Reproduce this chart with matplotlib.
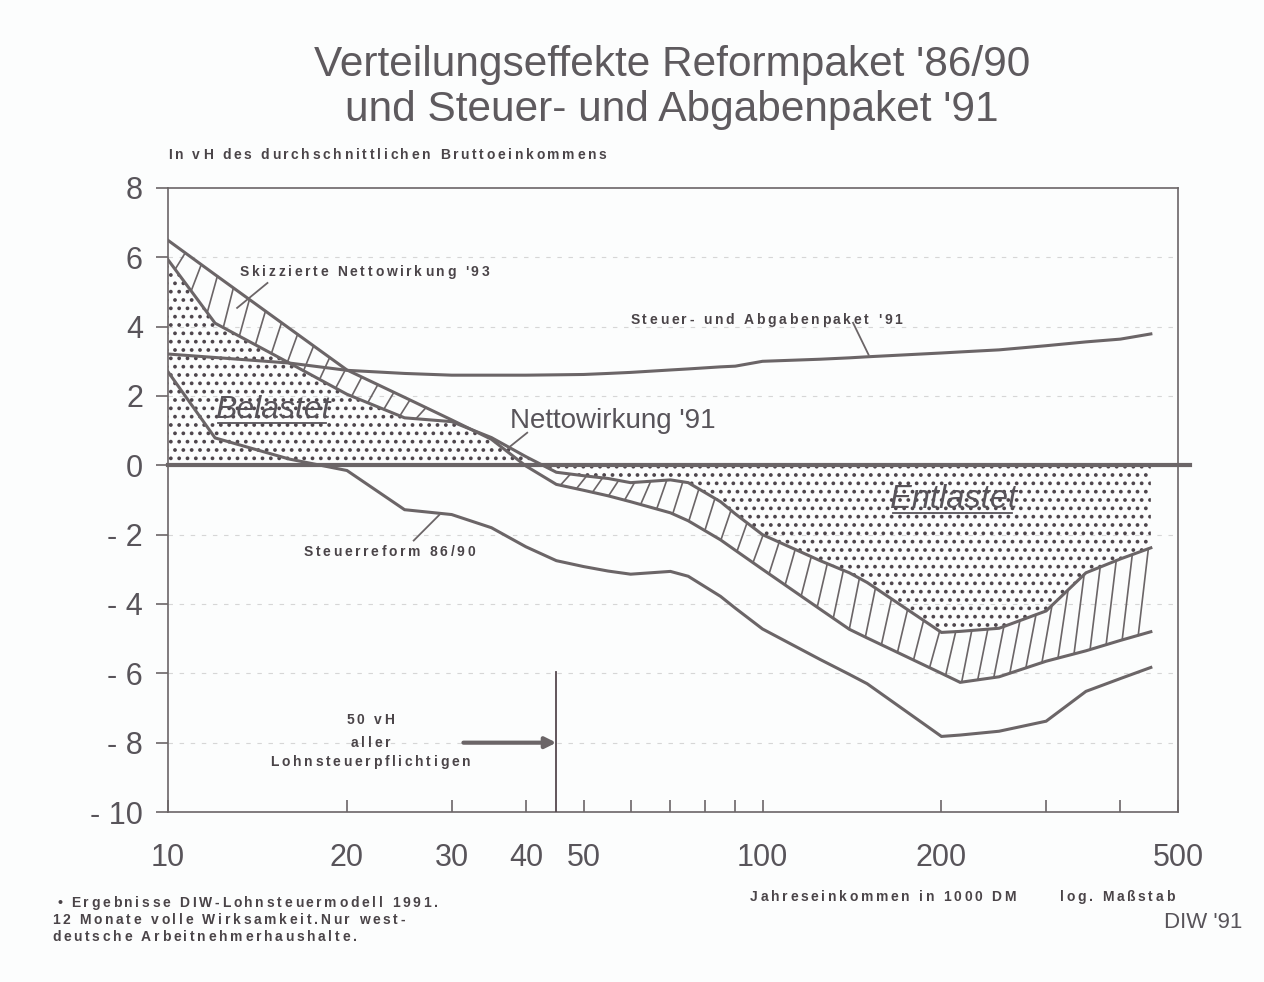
import numpy as np
import matplotlib.pyplot as plt
from matplotlib.ticker import FixedLocator, FixedFormatter, NullFormatter
from matplotlib.font_manager import FontProperties, findfont, get_font

# Jahreseinkommen in 1000 DM (log. Massstab)
einkommen = [10, 12, 16, 20, 25, 30, 35, 40, 45, 50, 55, 60, 70, 75, 85, 90,
             100, 125, 140, 150, 200, 215, 250, 300, 350, 400, 450]
# in vH des durchschnittlichen Bruttoeinkommens
steuerreform = [2.70, 0.79, 0.18, -0.15, -1.28, -1.42, -1.80, -2.35, -2.75, -2.92,
                -3.05, -3.14, -3.06, -3.20, -3.78, -4.12, -4.72, -5.60, -6.03, -6.30,
                -7.82, -7.78, -7.67, -7.38, -6.52, -6.15, -5.83]
abgabenpaket = [3.21, 3.11, 2.95, 2.74, 2.65, 2.60, 2.60, 2.60, 2.61, 2.62,
                2.65, 2.68, 2.75, 2.78, 2.84, 2.86, 3.00, 3.06, 3.10, 3.13,
                3.24, 3.27, 3.33, 3.45, 3.56, 3.64, 3.79]
netto91 = [5.93, 4.10, 2.95, 2.05, 1.37, 1.26, 0.80, 0.25, -0.20, -0.30,
           -0.38, -0.50, -0.42, -0.50, -1.05, -1.40, -2.00, -2.75, -3.10, -3.38,
           -4.82, -4.79, -4.70, -4.20, -3.10, -2.70, -2.38]
netto93 = [6.49, 5.50, 3.95, 2.75, 1.96, 1.31, 0.75, -0.02, -0.55, -0.72,
           -0.88, -1.05, -1.37, -1.60, -2.15, -2.45, -3.00, -4.15, -4.73, -4.98,
           -6.00, -6.26, -6.10, -5.65, -5.35, -5.05, -4.80]

xticks = [10, 20, 30, 40, 50, 100, 200, 500]
xminor = [60, 70, 80, 90, 300, 400]
yticks = [-10, -8, -6, -4, -2, 0, 2, 4, 6, 8]
ylabels = ['- 10', '- 8', '- 6', '- 4', '- 2', '0', '2', '4', '6', '8']
grenze = 45  # 50 vH aller Lohnsteuerpflichtigen

line_col = '#6b6567'
text_col = '#58545a'
small_col = '#4a4448'
plt.rcParams['hatch.linewidth'] = 1.5

fig = plt.figure(figsize=(12.64, 9.82), dpi=100, facecolor='#fcfdfd')
W, H = 1264.0, 982.0
ax = fig.add_axes([0.1329, 0.1731, 0.7991, 0.6355])
ax.set_facecolor('#fcfdfd')
ax.set_xscale('log')
ax.set_xlim(10, 500)
ax.set_ylim(-10, 8)

small_fp = FontProperties(family='Liberation Sans', weight='bold', size=10)
small_font = get_font(findfont(small_fp))
small_font.set_size(10, 100)


def spaced(x, y, s, track=2.7, ha='left', data=True):
    # gesperrter Text wie im Original: Zeichen einzeln setzen
    if data:
        px, py = ax.transData.transform((x, y))
    else:
        px, py = x * W, y * H
    adv = []
    for c in s:
        g = small_font.load_char(ord(c))
        adv.append(g.linearHoriAdvance / 65536)
    total = sum(adv) + track * (len(s) - 1)
    if ha == 'center':
        px -= total / 2
    elif ha == 'right':
        px -= total
    for c, a in zip(s, adv):
        if c != ' ':
            fig.text(px / W, py / H, c, ha='left', va='center',
                     fontproperties=small_fp, color=small_col)
        px += a + track


for s in ax.spines.values():
    s.set_color(line_col)
    s.set_linewidth(1.2)

ax.yaxis.set_major_locator(FixedLocator(yticks))
ax.yaxis.set_major_formatter(FixedFormatter(ylabels))
ax.xaxis.set_major_locator(FixedLocator(xticks))
ax.xaxis.set_major_formatter(FixedFormatter([str(v) for v in xticks]))
ax.xaxis.set_minor_locator(FixedLocator(xminor))
ax.xaxis.set_minor_formatter(NullFormatter())
ax.tick_params(axis='y', direction='out', length=9, width=1.2, pad=9,
               colors=line_col, labelcolor=text_col, labelsize=22,
               labelfontfamily='Liberation Sans')
ax.tick_params(axis='x', which='both', direction='in', length=9, width=1.2,
               pad=22, colors=line_col, labelcolor=text_col, labelsize=22,
               labelfontfamily='Liberation Sans')

for y in yticks[1:-1]:
    if y != 0:
        ax.axhline(y, color='#d6d6d6', lw=0.8, ls=(0, (4, 6)), zorder=0)

# gepunktete Flaeche: Nettowirkung '91
ax.fill_between(einkommen, netto91, 0, facecolor='none', edgecolor='#4e464c',
                hatch='..', linewidth=0, zorder=1)

# schraffierte Flaeche zwischen '91 und '93
u = np.log10(einkommen)
lo = np.minimum(netto91, netto93)
hi = np.maximum(netto91, netto93)
shift = 0.017
for s in np.arange(u[0] + 0.012, u[-1] - shift, 0.027):
    y0 = np.interp(s, u, lo)
    y1 = np.interp(s + shift, u, hi)
    if y1 - y0 > 0.2:
        ax.plot([10 ** s, 10 ** (s + shift)], [y0, y1], color=line_col,
                lw=1.2, zorder=2)

ax.axhline(0, xmax=1.012, color=line_col, lw=3, clip_on=False, zorder=3)
for ys in (steuerreform, abgabenpaket, netto91, netto93):
    ax.plot(einkommen, ys, color=line_col, lw=2.2, zorder=4,
            solid_joinstyle='miter')

ax.plot([grenze, grenze], [-10, -5.97], color='#55484e', lw=1.3, zorder=4)
ax.annotate('', xy=(grenze, -8), xytext=(31.4, -8),
            arrowprops=dict(arrowstyle='-|>', color=line_col, lw=3,
                            mutation_scale=16, shrinkA=0, shrinkB=0))
spaced(21.9, -7.34, '50 vH', ha='center')
spaced(21.9, -8.0, 'aller', ha='center')
spaced(21.9, -8.57, 'Lohnsteuerpflichtigen', ha='center')

# Beschriftungen mit Hinweislinien
lk = dict(color=line_col, lw=1.3, zorder=5)
spaced(13.2, 5.57, "Skizzierte Nettowirkung '93")
ax.plot([14.7, 13.07], [5.26, 4.54], **lk)
spaced(59.9, 4.19, "Steuer- und Abgabenpaket '91")
ax.plot([142, 150.8], [4.11, 3.19], **lk)
ax.text(37.6, 1.28, "Nettowirkung '91", ha='left', va='center',
        family='Liberation Sans', size=20, color=text_col)
ax.plot([40.2, 37.6], [0.94, 0.54], **lk)
spaced(16.9, -2.49, 'Steuerreform 86/90')
ax.plot([28.6, 25.9], [-1.43, -2.17], **lk)

t1 = ax.text(12.0, 1.6, 'Belastet', ha='left', va='center', style='italic',
             family='Liberation Sans', size=23, color=text_col, zorder=6)
t2 = ax.text(164, -0.99, 'Entlastet', ha='left', va='center', style='italic',
             family='Liberation Sans', size=23.5, color=text_col, zorder=6)
fig.canvas.draw()
inv = fig.transFigure.inverted()
for t in (t1, t2):
    bb = t.get_window_extent()
    (x0, y0), (x1, _) = inv.transform([[bb.x0, bb.y0], [bb.x1, bb.y1]])
    fig.add_artist(plt.Line2D([x0 + 0.002, x1 - 0.004], [y0 + 0.002, y0 + 0.002],
                              color=text_col, lw=1.3))

fig.text(0.5316, 0.9338, "Verteilungseffekte Reformpaket '86/90", ha='center',
         va='center', family='Liberation Sans', size=30.5, color='#5e5a5e')
fig.text(0.5316, 0.888, "und Steuer- und Abgabenpaket '91", ha='center',
         va='center', family='Liberation Sans', size=30.5, color='#5e5a5e')
spaced(0.1329, 0.8422, 'In vH des durchschnittlichen Bruttoeinkommens', data=False)

spaced(0.0451, 0.0804, '• Ergebnisse DIW-Lohnsteuermodell 1991.', data=False)
spaced(0.0411, 0.0631, '12 Monate volle Wirksamkeit.Nur west-', data=False)
spaced(0.0411, 0.0458, 'deutsche Arbeitnehmerhaushalte.', data=False)
spaced(0.5934, 0.0866, 'Jahreseinkommen in 1000 DM', data=False)
spaced(0.8386, 0.0866, 'log. Maßstab', data=False)
fig.text(0.9826, 0.0601, "DIW '91", ha='right', va='center',
         family='Liberation Sans', size=16, color=text_col)

fig.savefig('out.png', dpi=100, facecolor=fig.get_facecolor())
